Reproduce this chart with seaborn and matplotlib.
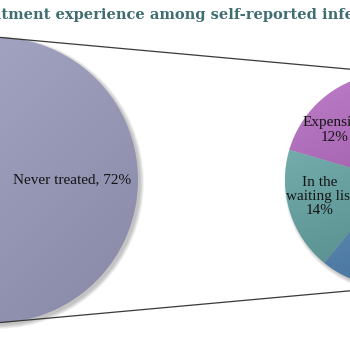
import matplotlib
matplotlib.use("Agg")
import matplotlib.pyplot as plt
from matplotlib.patches import Circle
import matplotlib.colors as mcolors
import seaborn as sns
import numpy as np

sns.set_theme(style="white")
plt.rcParams['font.family'] = ['Liberation Serif', 'DejaVu Serif']

# ---- data ----
title = "Treatment experience among self-reported infertile women"
main_labels = ["Never treated", "Treated"]
main_values = [72, 28]
sub_labels = ["Expensive", "In the\nwaiting list", "Other"]
sub_values = [12, 14, 49]

main_colors = ["#9999b8", "#7f7fa8"]
sub_colors = ["#a262ad", "#669e9e", "#5b88b0"]

fig = plt.figure(figsize=(3.5, 3.5), dpi=100)
ax = fig.add_axes([0, 0, 1, 1])

c1, r1 = (-5, 170), 143
c2, r2 = (392, 170), 107


def base(col, a):
    rgb = np.array(mcolors.to_rgb(col))
    return tuple(np.clip((rgb - a * 0.5) / (1 - a), 0, 1))


def shadow(center, r):
    for i in range(7):
        ax.add_patch(Circle((center[0] + 2.5, center[1] - 2.5), r + 3.5 - i * 0.6,
                            facecolor="black", edgecolor="none", alpha=0.035,
                            zorder=0.5))


def gradient(center, r, a, wx):
    n = 200
    u, v = np.meshgrid(np.linspace(0, 1, n), np.linspace(0, 1, n))
    t = (wx * u + (1 - v)) / (1 + wx)
    img = np.zeros((n, n, 4))
    img[..., 0] = img[..., 1] = img[..., 2] = 1 - t
    img[..., 3] = a
    im = ax.imshow(img, extent=[center[0] - r, center[0] + r, center[1] - r, center[1] + r],
                   origin="lower", zorder=2, interpolation="bilinear")
    clip = Circle(center, r, transform=ax.transData)
    im.set_clip_path(clip)


A1, A2 = 0.14, 0.22

shadow(c1, r1)
shadow(c2, r2)

w1, _ = ax.pie(main_values, center=c1, radius=r1, colors=[base(c, A1) for c in main_colors],
               startangle=-main_values[0] * 3.6 / 2, counterclock=True,
               wedgeprops=dict(linewidth=0, zorder=1))
w2, _ = ax.pie(sub_values, center=c2, radius=r2, colors=[base(c, A2) for c in sub_colors],
               startangle=106, counterclock=True,
               wedgeprops=dict(linewidth=0, zorder=1))
gradient(c1, r1, A1, 1.0)
gradient(c2, r2, A2, 0.4)


def label(w, center, r, d, text, da=0.0):
    a = np.deg2rad((w.theta1 + w.theta2) / 2 + da)
    ax.text(center[0] + d * r * np.cos(a), center[1] + d * r * np.sin(a), text,
            ha="center", va="center", fontsize=11, color="#141414",
            linespacing=1.12, zorder=6)


label(w1[0], c1, r1, 0.54, f"{main_labels[0]}, {main_values[0]}%")
label(w2[0], c2, r2, 0.71, f"{sub_labels[0]}\n{sub_values[0]}%", da=4)
label(w2[1], c2, r2, 0.69, f"{sub_labels[1]}\n{sub_values[1]}%", da=-4.5)

# connector lines
ax.plot([c1[0], c2[0]], [c1[1] + r1, c2[1] + r2], color="#3a3a3a", lw=0.9, zorder=5)
ax.plot([c1[0], c2[0]], [c1[1] - r1, c2[1] - r2], color="#3a3a3a", lw=0.9, zorder=5)

ax.set_xlim(0, 350)
ax.set_ylim(0, 350)
ax.set_aspect("equal")
ax.axis("off")

# title positioned so that it is cropped like the reference
TS = 10.5
TF = ["DejaVu Serif"]
t = fig.text(0, 1 - 15 / 350, title, ha="left", va="center", fontsize=TS,
             fontweight="bold", color="#3f6d72", family=TF)
fig.canvas.draw()
r = fig.canvas.get_renderer()
tmp = fig.text(0, 0, "Trea", fontsize=TS, fontweight="bold", family=TF)
wpx = tmp.get_window_extent(r).width
tmp.remove()
t.set_x(-(wpx - 1) / 350)

fig.savefig("out.png", dpi=100)
